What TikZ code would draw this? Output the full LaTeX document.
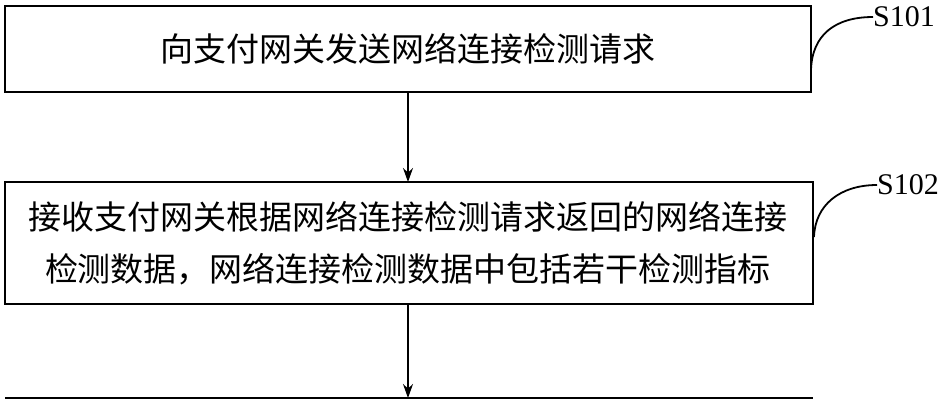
\documentclass[tikz,border=0pt]{standalone}
\usepackage{fontspec}
\usetikzlibrary{arrows.meta}
\setmainfont{Liberation Serif}
\newfontfamily\cjk{Noto Sans CJK SC}
\begin{document}
\begin{tikzpicture}[x=1pt,y=-1pt,
  stepbox/.style={draw,line width=1.2pt},
  txt/.style={font=\cjk\fontsize{33}{52}\selectfont,align=center},
  arr/.style={-{Stealth[length=14pt,width=10pt]},line width=1.2pt},
  lead/.style={line width=1.8pt},
  lbl/.style={font=\fontsize{30}{30}\selectfont,anchor=west,inner sep=0pt}]
\useasboundingbox[fill=white] (0,0) rectangle (940,400);
\draw[stepbox] (5,6) rectangle (811,92);
\node[txt] (t1) at (408,49) {向支付网关发送网络连接检测请求};
\draw[stepbox] (5,182) rectangle (813,304);
\node[txt] (t2) at (408,243) {接收支付网关根据网络连接检测请求返回的网络连接\\检测数据，网络连接检测数据中包括若干检测指标};
\draw[stepbox] (5,398) -- (813,398);
\coordinate (a1) at (408,92);
\coordinate (b1) at (408,182);
\coordinate (a2) at (408,304);
\coordinate (b2) at (408,398);
\draw[arr] (a1) -- (b1);
\draw[arr] (a2) -- (b2);
\node[lbl] (s1) at (873,17) {S101};
\node[lbl] (s2) at (877,185) {S102};
\coordinate (c1) at (811,70);
\coordinate (c2) at (814,237);
\draw[lead] (c1) .. controls (812,35) and (835,17) .. (s1.west);
\draw[lead] (c2) .. controls (815,205) and (840,185) .. (s2.west);
\end{tikzpicture}
\end{document}
